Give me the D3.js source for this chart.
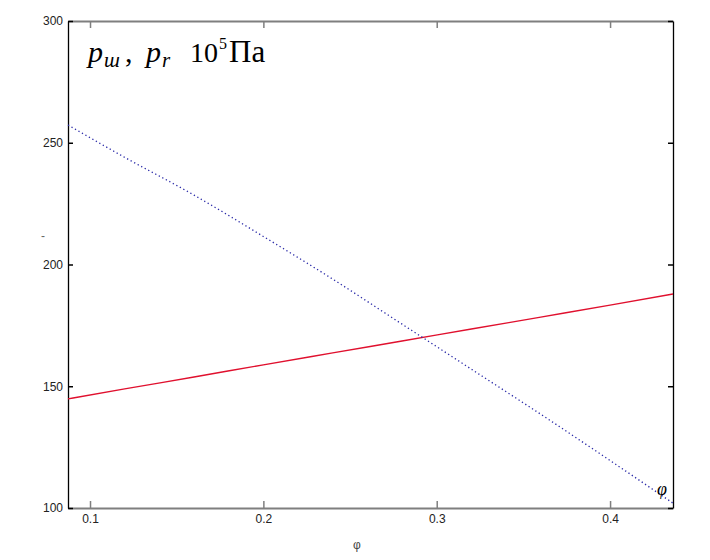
<!DOCTYPE html>
<html>
<head>
<meta charset="utf-8">
<script src="https://cdn.jsdelivr.net/npm/d3@7"></script>
<style>
  body { margin: 0; background: #fff; }
</style>
</head>
<body>
<div id="chart"></div>
<script>
// φ (рад) от 5° до 25°
var PHI = [0.0873, 0.12, 0.16, 0.2, 0.24, 0.28, 0.32, 0.36, 0.4, 0.4363];
// p_ш — пунктир, p_r — сплошная красная (10^5 Па)
var P_SH = [257.3, 244, 228.5, 211.5, 194, 175.5, 157, 138.5, 119.5, 102];
var P_R = [144.8, 148.9, 153.8, 158.8, 163.7, 168.6, 173.5, 178.4, 183.3, 187.9];
var X_TICKS = [0.1, 0.2, 0.3, 0.4];
var Y_TICKS = [100, 150, 200, 250, 300];

var W = 710, H = 560, ml = 68, mr = 37, mt = 21, mb = 52;
var pw = W - ml - mr, ph = H - mt - mb;

var svg = d3.select('#chart').append('svg')
    .attr('width', W).attr('height', H)
    .style('font-family', '"Liberation Sans", Arial, sans-serif');

var x = d3.scaleLinear().domain([0.0873, 0.4363]).range([ml, ml + pw]);
var y = d3.scaleLinear().domain([100, 300]).range([mt + ph, mt]);

function styleAxis(g, color, width) {
    g.select('.domain').attr('stroke', color).attr('stroke-width', width);
    g.selectAll('.tick line').attr('stroke', color).attr('stroke-width', 1.5);
    g.selectAll('.tick text').attr('fill', '#222').attr('font-size', 12);
}

// оси
var fmt = d3.format('.1f');
svg.append('g').attr('transform', 'translate(0,' + (mt + ph) + ')')
    .call(d3.axisBottom(x).tickValues(X_TICKS).tickSize(-7).tickPadding(6)
        .tickSizeOuter(0).tickFormat(fmt))
    .call(styleAxis, '#7f7f7f', 2);
svg.append('g').attr('transform', 'translate(0,' + mt + ')')
    .call(d3.axisTop(x).tickValues(X_TICKS).tickSize(-7).tickSizeOuter(0)
        .tickFormat(''))
    .call(styleAxis, '#7f7f7f', 2);
svg.append('g').attr('transform', 'translate(' + ml + ',0)')
    .call(d3.axisLeft(y).tickValues(Y_TICKS).tickSize(-5).tickPadding(5)
        .tickSizeOuter(0))
    .call(styleAxis, '#000', 1.3);
svg.append('g').attr('transform', 'translate(' + (ml + pw) + ',0)')
    .call(d3.axisRight(y).tickValues(Y_TICKS).tickSize(-5).tickSizeOuter(0)
        .tickFormat(''))
    .call(styleAxis, '#000', 1.3);

// кривые
var line = d3.line()
    .x(function (d, i) { return x(PHI[i]); })
    .y(function (d) { return y(d); })
    .curve(d3.curveMonotoneX);

svg.append('path').datum(P_R).attr('d', line)
    .attr('fill', 'none').attr('stroke', '#e0102e').attr('stroke-width', 1.4);
svg.append('path').datum(P_SH).attr('d', line)
    .attr('fill', 'none').attr('stroke', '#2a2aa8').attr('stroke-width', 1.3)
    .attr('stroke-dasharray', '1.3,2.7');

// заголовок: p_ш , p_r 10^5 Па
var title = svg.append('text').attr('y', 62)
    .attr('font-family', '"Liberation Serif", "Times New Roman", serif')
    .attr('font-size', 30);
title.append('tspan').attr('x', 88).attr('font-style', 'italic').text('p');
title.append('tspan').attr('x', 104).attr('dy', 5).attr('font-style', 'italic')
    .attr('font-size', 21).text('ш');
title.append('tspan').attr('x', 125).attr('dy', -5).text(',');
title.append('tspan').attr('x', 146).attr('font-style', 'italic').text('p');
title.append('tspan').attr('x', 162).attr('dy', 5).attr('font-style', 'italic')
    .attr('font-size', 21).text('r');
title.append('tspan').attr('x', 190).attr('dy', -5).attr('font-size', 28).text('10');
title.append('tspan').attr('x', 219).attr('dy', -13).attr('font-size', 16).text('5');
title.append('tspan').attr('x', 229).attr('dy', 13).attr('font-size', 31).text('Па');

svg.append('text').attr('x', 662).attr('y', 495)
    .attr('text-anchor', 'middle')
    .attr('font-family', '"Liberation Serif", "Times New Roman", serif')
    .attr('font-style', 'italic').attr('font-size', 18).text('φ');

svg.append('text').attr('x', 357).attr('y', 549)
    .attr('text-anchor', 'middle').attr('font-size', 12).attr('fill', '#444')
    .text('φ');

svg.append('text').attr('x', 43).attr('y', 240)
    .attr('text-anchor', 'middle').attr('font-size', 12).attr('fill', '#666')
    .text('-');
</script>
</body>
</html>
